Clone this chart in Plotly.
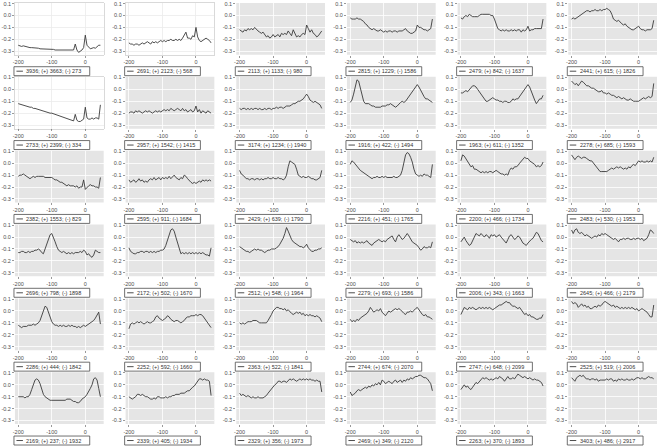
import plotly.graph_objects as go

# ---------------- data ----------------
X = list(range(-200, 50, 5))

TOTAL = [3936, 2691, 2113, 2815, 2479, 2441,
         2733, 2957, 3174, 1916, 1963, 2278,
         2382, 2595, 2429, 2216, 2200, 2483,
         2696, 2172, 2512, 2279, 2006, 2645,
         2286, 2252, 2363, 2744, 2747, 2525,
         2169, 2339, 2329, 2469, 2263, 3403]
PLUS = [3663, 2123, 1133, 1229, 842, 615,
        2399, 1542, 1234, 422, 611, 685,
        1553, 911, 639, 451, 466, 530,
        798, 502, 548, 693, 343, 466,
        444, 592, 522, 674, 648, 519,
        237, 405, 356, 349, 370, 486]
MINUS = [273, 568, 980, 1586, 1637, 1826,
         334, 1415, 1940, 1494, 1352, 1593,
         829, 1684, 1790, 1765, 1734, 1953,
         1898, 1670, 1964, 1586, 1663, 2179,
         1842, 1660, 1841, 2070, 2099, 2006,
         1932, 1934, 1973, 2120, 1893, 2917]
WHITE_PANELS = [0, 1, 6]

S01 = [-0.25,-0.255,-0.26,-0.255,-0.26,-0.265,-0.265,-0.27,-0.27,-0.27,
       -0.275,-0.275,-0.275,-0.28,-0.28,-0.28,-0.285,-0.28,-0.285,-0.285,
       -0.285,-0.285,-0.29,-0.29,-0.29,-0.29,-0.29,-0.295,-0.29,-0.295,
       -0.295,-0.295,-0.295,-0.29,-0.24,-0.29,-0.31,-0.30,-0.29,-0.27,
       -0.165,-0.25,-0.27,-0.28,-0.275,-0.27,-0.275,-0.265,-0.25,-0.25]
S02 = [-0.23,-0.24,-0.24,-0.25,-0.24,-0.24,-0.25,-0.24,-0.23,-0.24,
       -0.23,-0.22,-0.23,-0.24,-0.22,-0.23,-0.22,-0.23,-0.22,-0.21,
       -0.22,-0.21,-0.22,-0.21,-0.21,-0.20,-0.21,-0.21,-0.20,-0.21,
       -0.20,-0.21,-0.19,-0.17,-0.14,-0.19,-0.19,-0.20,-0.17,-0.18,
       -0.10,-0.18,-0.21,-0.22,-0.21,-0.20,-0.19,-0.20,-0.21,-0.23]
S03 = [-0.12,-0.13,-0.14,-0.12,-0.13,-0.11,-0.12,-0.11,-0.12,-0.10,
       -0.12,-0.13,-0.14,-0.15,-0.14,-0.16,-0.18,-0.17,-0.19,-0.18,
       -0.16,-0.18,-0.17,-0.16,-0.18,-0.15,-0.16,-0.15,-0.16,-0.13,
       -0.15,-0.17,-0.12,-0.15,-0.18,-0.17,-0.18,-0.16,-0.15,-0.16,
       -0.08,-0.11,-0.14,-0.12,-0.15,-0.16,-0.18,-0.17,-0.15,-0.13]
S04 = [-0.02,-0.03,-0.03,-0.03,-0.02,-0.03,-0.03,-0.04,-0.05,-0.07,
       -0.08,-0.10,-0.11,-0.12,-0.11,-0.12,-0.13,-0.13,-0.12,-0.13,
       -0.14,-0.13,-0.14,-0.13,-0.13,-0.14,-0.13,-0.13,-0.14,-0.13,
       -0.13,-0.13,-0.12,-0.11,-0.13,-0.14,-0.15,-0.15,-0.14,-0.13,
       -0.08,-0.10,-0.10,-0.11,-0.12,-0.12,-0.13,-0.12,-0.11,-0.03]
S05 = [-0.02,-0.03,-0.01,0.00,-0.01,0.01,0.00,-0.01,-0.01,-0.01,
       -0.01,0.00,0.01,0.01,0.01,0.01,0.01,0.01,0.00,0.00,
       -0.03,-0.08,-0.11,-0.12,-0.13,-0.12,-0.13,-0.12,-0.13,-0.13,
       -0.12,-0.13,-0.12,-0.13,-0.12,-0.12,-0.14,-0.12,-0.13,-0.12,
       -0.09,-0.13,-0.12,-0.12,-0.11,-0.11,-0.11,-0.11,-0.11,-0.03]
S06 = [-0.03,-0.02,-0.03,-0.02,-0.01,0.00,0.01,0.02,0.03,0.04,
       0.04,0.03,0.04,0.04,0.05,0.04,0.04,0.05,0.04,0.05,
       0.05,0.06,0.05,0.04,0.01,-0.03,-0.04,-0.05,-0.04,-0.06,
       -0.07,-0.08,-0.07,-0.09,-0.10,-0.11,-0.12,-0.12,-0.11,-0.10,
       -0.09,-0.11,-0.12,-0.12,-0.13,-0.12,-0.12,-0.12,-0.11,-0.04]
S07 = [-0.12,-0.125,-0.13,-0.13,-0.135,-0.14,-0.145,-0.15,-0.15,-0.16,
       -0.16,-0.165,-0.17,-0.175,-0.18,-0.18,-0.185,-0.19,-0.195,-0.20,
       -0.20,-0.205,-0.21,-0.215,-0.22,-0.225,-0.23,-0.235,-0.24,-0.245,
       -0.25,-0.255,-0.26,-0.265,-0.21,-0.26,-0.27,-0.27,-0.26,-0.25,
       -0.15,-0.24,-0.25,-0.25,-0.24,-0.25,-0.24,-0.24,-0.25,-0.13]
S08 = [-0.20,-0.19,-0.19,-0.20,-0.18,-0.19,-0.18,-0.19,-0.20,-0.19,
       -0.18,-0.19,-0.18,-0.19,-0.20,-0.19,-0.18,-0.19,-0.18,-0.19,
       -0.18,-0.17,-0.18,-0.17,-0.18,-0.16,-0.17,-0.18,-0.17,-0.16,
       -0.17,-0.18,-0.16,-0.18,-0.17,-0.19,-0.18,-0.17,-0.19,-0.18,
       -0.14,-0.19,-0.17,-0.20,-0.18,-0.19,-0.20,-0.18,-0.19,-0.20]
S09 = [-0.16,-0.17,-0.16,-0.16,-0.17,-0.16,-0.17,-0.16,-0.17,-0.16,
       -0.16,-0.17,-0.16,-0.17,-0.17,-0.16,-0.17,-0.16,-0.16,-0.17,
       -0.16,-0.16,-0.15,-0.16,-0.15,-0.15,-0.16,-0.15,-0.14,-0.14,
       -0.14,-0.13,-0.12,-0.12,-0.11,-0.10,-0.10,-0.09,-0.08,-0.06,
       -0.04,-0.06,-0.09,-0.10,-0.11,-0.10,-0.11,-0.12,-0.13,-0.16]
S10 = [-0.11,-0.09,-0.04,0.03,0.08,0.07,0.02,-0.05,-0.10,-0.12,
       -0.12,-0.12,-0.13,-0.14,-0.14,-0.15,-0.15,-0.15,-0.15,-0.14,
       -0.14,-0.14,-0.13,-0.13,-0.12,-0.13,-0.14,-0.15,-0.14,-0.12,
       -0.11,-0.10,-0.11,-0.10,-0.08,-0.06,-0.04,-0.02,0.01,0.03,
       0.04,0.02,-0.01,-0.03,-0.06,-0.08,-0.08,-0.09,-0.10,-0.11]
S11 = [-0.03,-0.03,-0.02,-0.01,-0.02,0.00,0.02,0.03,0.03,0.02,
       0.00,-0.02,-0.04,-0.06,-0.08,-0.10,-0.10,-0.09,-0.08,-0.07,
       -0.08,-0.09,-0.09,-0.10,-0.10,-0.11,-0.10,-0.10,-0.11,-0.11,
       -0.10,-0.08,-0.09,-0.08,-0.08,-0.06,-0.03,-0.01,0.01,0.03,
       0.04,0.02,-0.02,-0.06,-0.09,-0.12,-0.10,-0.08,-0.08,-0.05]
S12 = [0.07,0.05,0.04,0.05,0.03,0.05,0.07,0.06,0.04,0.03,
       0.03,0.02,0.01,0.01,0.00,-0.01,-0.02,-0.02,-0.01,-0.03,
       -0.03,-0.04,-0.03,-0.04,-0.05,-0.05,-0.06,-0.07,-0.06,-0.07,
       -0.08,-0.07,-0.08,-0.09,-0.09,-0.08,-0.09,-0.10,-0.10,-0.10,
       -0.10,-0.09,-0.08,-0.07,-0.08,-0.07,-0.06,-0.07,-0.06,0.05]
S13 = [-0.11,-0.10,-0.10,-0.09,-0.10,-0.11,-0.12,-0.13,-0.12,-0.11,
       -0.12,-0.11,-0.11,-0.11,-0.11,-0.11,-0.12,-0.12,-0.12,-0.12,
       -0.12,-0.13,-0.14,-0.14,-0.15,-0.16,-0.16,-0.17,-0.18,-0.19,
       -0.18,-0.19,-0.19,-0.19,-0.20,-0.19,-0.21,-0.20,-0.20,-0.14,
       -0.22,-0.20,-0.19,-0.18,-0.19,-0.19,-0.20,-0.20,-0.21,-0.12]
S14 = [-0.14,-0.16,-0.15,-0.14,-0.16,-0.15,-0.13,-0.15,-0.14,-0.16,
       -0.15,-0.16,-0.14,-0.13,-0.14,-0.12,-0.14,-0.13,-0.12,-0.14,
       -0.12,-0.13,-0.12,-0.13,-0.11,-0.13,-0.11,-0.10,-0.12,-0.13,
       -0.14,-0.12,-0.13,-0.10,-0.11,-0.13,-0.15,-0.16,-0.17,-0.16,
       -0.17,-0.16,-0.15,-0.16,-0.14,-0.15,-0.14,-0.15,-0.14,-0.15]
S15 = [-0.06,-0.09,-0.10,-0.12,-0.13,-0.13,-0.14,-0.13,-0.13,-0.14,
       -0.13,-0.13,-0.14,-0.13,-0.14,-0.13,-0.13,-0.12,-0.13,-0.13,
       -0.12,-0.13,-0.13,-0.12,-0.13,-0.13,-0.14,-0.13,-0.10,-0.03,
       0.02,0.01,0.00,-0.01,-0.05,-0.10,-0.11,-0.12,-0.11,-0.12,
       -0.12,-0.11,-0.12,-0.13,-0.13,-0.14,-0.14,-0.13,-0.12,-0.06]
S16 = [-0.01,0.02,0.01,-0.01,-0.03,-0.04,-0.06,-0.07,-0.08,-0.09,
       -0.10,-0.11,-0.12,-0.13,-0.12,-0.12,-0.11,-0.12,-0.12,-0.11,
       -0.12,-0.11,-0.12,-0.12,-0.12,-0.12,-0.11,-0.12,-0.12,-0.11,
       -0.10,-0.06,0.01,0.07,0.09,0.08,0.05,0.01,-0.05,-0.09,
       -0.10,-0.11,-0.10,-0.11,-0.09,-0.10,-0.10,-0.11,-0.12,-0.01]
S17 = [0.02,0.07,0.06,0.04,0.02,0.00,-0.03,-0.02,-0.05,-0.05,
       -0.06,-0.07,-0.08,-0.07,-0.08,-0.07,-0.08,-0.07,-0.07,-0.08,
       -0.07,-0.06,-0.07,-0.08,-0.09,-0.09,-0.10,-0.09,-0.10,-0.06,
       -0.04,-0.05,-0.03,-0.03,-0.02,0.00,0.02,0.03,0.05,0.04,
       0.04,0.02,0.01,0.00,-0.01,-0.03,-0.02,-0.03,-0.02,0.01]
S18 = [0.07,0.05,0.03,0.05,0.06,0.05,0.04,0.05,0.05,0.04,
       0.03,0.02,0.02,0.00,-0.01,-0.03,-0.05,-0.07,-0.07,-0.07,
       -0.07,-0.07,-0.06,-0.05,-0.04,-0.05,-0.04,-0.03,-0.04,-0.03,
       -0.04,-0.05,-0.04,-0.05,-0.03,-0.04,-0.02,-0.01,-0.02,0.00,
       0.02,0.01,0.02,0.01,0.01,0.02,0.01,0.02,0.01,0.05]
S19 = [-0.13,-0.13,-0.12,-0.12,-0.13,-0.13,-0.12,-0.13,-0.12,-0.12,
       -0.11,-0.11,-0.10,-0.11,-0.13,-0.14,-0.10,-0.06,-0.02,0.02,
       0.03,0.00,-0.04,-0.08,-0.11,-0.12,-0.13,-0.12,-0.13,-0.14,
       -0.13,-0.14,-0.13,-0.14,-0.13,-0.13,-0.13,-0.12,-0.13,-0.11,
       -0.12,-0.15,-0.14,-0.16,-0.17,-0.15,-0.11,-0.12,-0.13,-0.13]
S20 = [-0.09,-0.12,-0.13,-0.14,-0.14,-0.13,-0.13,-0.12,-0.12,-0.13,
       -0.12,-0.12,-0.13,-0.12,-0.13,-0.12,-0.13,-0.12,-0.12,-0.11,
       -0.11,-0.10,-0.07,-0.02,0.03,0.06,0.07,0.05,0.00,-0.05,
       -0.11,-0.14,-0.13,-0.14,-0.13,-0.14,-0.13,-0.14,-0.13,-0.14,
       -0.13,-0.14,-0.13,-0.14,-0.13,-0.14,-0.15,-0.15,-0.16,-0.09]
S21 = [-0.08,-0.09,-0.10,-0.11,-0.12,-0.12,-0.13,-0.12,-0.11,-0.10,
       -0.11,-0.10,-0.11,-0.11,-0.12,-0.13,-0.12,-0.11,-0.11,-0.10,
       -0.10,-0.10,-0.09,-0.08,-0.06,-0.04,-0.01,0.03,0.08,0.05,
       0.01,-0.02,-0.04,-0.05,-0.06,-0.07,-0.08,-0.08,-0.09,-0.08,
       -0.06,-0.09,-0.11,-0.12,-0.12,-0.11,-0.11,-0.10,-0.10,-0.09]
S22 = [-0.02,-0.03,-0.04,-0.03,-0.05,-0.04,-0.05,-0.04,-0.05,-0.04,
       -0.03,-0.05,-0.06,-0.07,-0.05,-0.04,-0.03,-0.02,-0.03,-0.04,
       -0.03,-0.04,-0.02,-0.01,0.00,0.01,-0.02,-0.04,0.00,0.02,
       0.00,-0.02,-0.01,0.01,0.03,0.01,-0.02,-0.04,-0.05,-0.06,
       -0.07,-0.09,-0.11,-0.10,-0.08,-0.09,-0.09,-0.08,-0.09,-0.04]
S23 = [-0.04,-0.02,0.00,-0.03,-0.05,-0.07,-0.06,-0.03,0.01,0.03,
       0.02,0.01,0.03,0.01,0.00,0.02,0.01,-0.01,0.02,0.01,
       0.02,0.00,0.01,0.02,0.00,-0.02,-0.04,-0.05,-0.02,0.01,
       0.02,0.00,-0.02,-0.01,0.01,0.00,-0.03,-0.05,-0.06,-0.07,
       -0.05,-0.03,-0.02,-0.01,0.02,0.04,0.03,0.00,-0.03,-0.04]
S24 = [0.06,0.03,0.06,0.07,0.04,0.03,0.04,0.02,0.01,0.02,
       0.01,0.00,-0.01,0.00,0.01,0.00,0.02,0.01,0.03,0.02,
       0.03,0.02,0.01,0.00,-0.01,-0.02,-0.01,-0.03,-0.04,-0.02,
       -0.02,-0.01,-0.02,-0.01,-0.01,-0.02,-0.02,-0.01,-0.02,-0.01,
       -0.01,-0.02,-0.01,-0.03,-0.02,-0.01,0.02,0.06,0.05,0.03]
S25 = [-0.12,-0.13,-0.14,-0.13,-0.13,-0.13,-0.12,-0.12,-0.12,-0.11,
       -0.12,-0.11,-0.10,-0.08,-0.04,0.01,0.04,0.03,-0.01,-0.06,
       -0.09,-0.11,-0.12,-0.12,-0.13,-0.12,-0.13,-0.12,-0.13,-0.13,
       -0.12,-0.13,-0.12,-0.13,-0.13,-0.14,-0.13,-0.14,-0.13,-0.12,
       -0.13,-0.12,-0.11,-0.10,-0.09,-0.08,-0.06,-0.03,-0.01,-0.11]
S26 = [-0.15,-0.11,-0.10,-0.11,-0.10,-0.09,-0.10,-0.09,-0.10,-0.11,
       -0.10,-0.09,-0.10,-0.10,-0.09,-0.08,-0.05,-0.04,-0.06,-0.07,
       -0.08,-0.07,-0.06,-0.04,-0.05,-0.07,-0.08,-0.09,-0.08,-0.08,
       -0.09,-0.10,-0.09,-0.08,-0.06,-0.05,-0.05,-0.04,-0.04,-0.04,
       -0.03,-0.04,-0.03,-0.03,-0.04,-0.06,-0.08,-0.09,-0.11,-0.14]
S27 = [-0.10,-0.11,-0.10,-0.11,-0.10,-0.09,-0.09,-0.09,-0.08,-0.08,
       -0.08,-0.09,-0.10,-0.10,-0.10,-0.10,-0.10,-0.08,-0.06,-0.03,
       0.00,0.02,0.03,0.03,0.02,0.02,0.01,0.02,0.00,0.01,
       -0.01,-0.02,-0.03,-0.02,-0.01,-0.02,-0.01,-0.03,-0.02,-0.04,
       -0.03,-0.04,-0.03,-0.04,-0.04,-0.05,-0.04,-0.05,-0.06,-0.09]
S28 = [-0.07,-0.09,-0.08,-0.09,-0.07,-0.08,-0.06,-0.05,-0.04,-0.03,
       -0.02,0.00,0.03,0.01,-0.01,0.00,0.01,0.00,0.02,-0.01,
       -0.03,-0.04,-0.02,0.00,-0.01,0.00,0.01,0.02,0.01,0.02,
       0.01,-0.01,-0.02,-0.03,-0.01,-0.01,0.00,-0.01,0.01,0.02,
       0.03,0.01,-0.02,-0.03,-0.04,-0.03,-0.05,-0.05,-0.06,-0.07]
S29 = [-0.03,0.00,0.03,0.02,0.01,0.03,0.02,0.03,0.02,0.01,
       0.02,0.03,0.02,0.03,0.02,0.03,0.02,0.03,0.02,0.01,
       0.02,0.03,0.04,0.05,0.05,0.06,0.07,0.08,0.07,0.07,
       0.05,0.04,0.04,0.03,0.02,0.03,0.01,-0.01,-0.03,-0.02,
       -0.04,-0.03,-0.05,-0.05,-0.06,-0.07,-0.07,-0.06,-0.06,-0.03]
S30 = [0.08,0.06,0.07,0.06,0.03,0.05,0.06,0.04,0.05,0.03,
       0.04,0.02,0.02,0.03,0.04,0.03,0.05,0.04,0.05,0.07,
       0.08,0.07,0.06,0.05,0.04,0.05,0.03,0.04,0.03,0.02,
       0.03,0.02,0.03,0.02,0.03,0.02,0.03,0.02,0.01,0.02,
       0.00,0.01,0.02,0.01,0.00,-0.01,-0.03,-0.05,-0.05,0.05]
S31 = [-0.10,-0.10,-0.10,-0.10,-0.11,-0.10,-0.10,-0.08,-0.04,0.01,
       0.04,0.05,0.04,0.01,-0.04,-0.08,-0.10,-0.11,-0.12,-0.13,
       -0.13,-0.13,-0.13,-0.13,-0.13,-0.13,-0.13,-0.13,-0.13,-0.12,
       -0.12,-0.12,-0.13,-0.14,-0.14,-0.15,-0.15,-0.14,-0.12,-0.11,
       -0.10,-0.08,-0.06,-0.03,0.00,0.05,0.06,0.04,-0.03,-0.10]
S32 = [-0.10,-0.11,-0.12,-0.11,-0.10,-0.08,-0.08,-0.09,-0.08,-0.09,
       -0.10,-0.10,-0.11,-0.12,-0.12,-0.11,-0.12,-0.10,-0.10,-0.11,
       -0.11,-0.11,-0.10,-0.11,-0.10,-0.10,-0.09,-0.09,-0.08,-0.08,
       -0.08,-0.07,-0.07,-0.07,-0.06,-0.05,-0.05,-0.03,-0.02,-0.01,
       0.01,0.03,0.05,0.05,0.04,0.05,0.04,0.04,0.03,-0.09]
S33 = [-0.07,-0.09,-0.08,-0.09,-0.10,-0.09,-0.10,-0.11,-0.10,-0.11,
       -0.11,-0.10,-0.11,-0.11,-0.11,-0.10,-0.09,-0.07,-0.05,-0.03,
       -0.02,0.00,0.01,0.03,0.03,0.02,0.03,0.03,0.02,0.04,
       0.05,0.04,0.05,0.04,0.03,0.04,0.05,0.04,0.05,0.04,
       0.05,0.04,0.05,0.04,0.04,0.03,0.04,0.03,0.03,-0.06]
S34 = [-0.06,-0.09,-0.08,-0.07,-0.05,-0.04,-0.05,-0.04,-0.03,-0.02,
       -0.03,-0.01,-0.02,0.00,-0.01,0.01,0.00,0.02,0.00,0.04,
       0.03,0.01,0.02,0.03,0.02,0.01,0.03,0.04,0.02,0.03,
       0.04,0.02,0.04,0.03,0.05,0.04,0.06,0.05,0.06,0.07,
       0.07,0.08,0.08,0.07,0.06,0.06,0.05,0.03,0.01,-0.05]
S35 = [-0.04,-0.02,0.00,-0.02,-0.01,-0.03,-0.04,-0.02,0.00,0.02,
       0.01,0.03,0.04,0.06,0.05,0.06,0.05,0.04,0.05,0.04,
       0.05,0.06,0.05,0.07,0.06,0.05,0.03,0.05,0.07,0.05,
       0.05,0.06,0.05,0.07,0.09,0.08,0.07,0.06,0.07,0.06,
       0.05,0.06,0.05,0.04,0.05,0.04,0.04,0.03,0.02,-0.01]
S36 = [0.06,0.04,0.03,0.06,0.07,0.08,0.07,0.08,0.06,0.05,
       0.05,0.04,0.05,0.05,0.04,0.05,0.03,0.04,0.04,0.04,
       0.04,0.05,0.04,0.05,0.05,0.03,0.04,0.03,0.05,0.04,
       0.05,0.04,0.04,0.05,0.04,0.04,0.05,0.04,0.05,0.06,
       0.06,0.05,0.06,0.05,0.05,0.06,0.07,0.06,0.06,0.05]

SERIES = [S01, S02, S03, S04, S05, S06, S07, S08, S09, S10, S11, S12,
          S13, S14, S15, S16, S17, S18, S19, S20, S21, S22, S23, S24,
          S25, S26, S27, S28, S29, S30, S31, S32, S33, S34, S35, S36]

X_TICKS = [-200, -100, 0]
Y_TICKS = [-0.3, -0.2, -0.1, 0.0, 0.1]
Y_TICK_TEXT = ["-0.3", "-0.2", "-0.1", "0.0", "0.1"]

# ---------------- layout geometry (pixels) ----------------
W, H = 660, 446
COL_LEFT = [13, 124, 235, 346, 457, 568]
ROW_TOP = [1 + 74.2 * r for r in range(6)]
PW, PH = 89, 52
FONT = "Liberation Sans, Arial, sans-serif"
LINE_COLOR = "#3a3a3a"

fig = go.Figure()
layout = dict(
    width=W, height=H,
    margin=dict(l=0, r=0, t=0, b=0),
    paper_bgcolor="white",
    plot_bgcolor="rgba(0,0,0,0)",
    showlegend=False,
    font=dict(family=FONT, size=6, color="#4d4d4d"),
)
shapes = []
annotations = []

def px(x):
    return x / W

def py(y):
    return 1 - y / H

for k in range(36):
    r, c = divmod(k, 6)
    n = k + 1
    left, top = COL_LEFT[c], ROW_TOP[r]
    white = k in WHITE_PANELS
    xa = "xaxis" if n == 1 else f"xaxis{n}"
    ya = "yaxis" if n == 1 else f"yaxis{n}"
    xr = "x" if n == 1 else f"x{n}"
    yr = "y" if n == 1 else f"y{n}"

    common = dict(
        showgrid=True,
        gridcolor="#ebebeb" if white else "#ffffff",
        gridwidth=0.8,
        zeroline=False,
        ticks="outside", ticklen=2, tickwidth=0.6, tickcolor="#555555",
        tickfont=dict(family=FONT, size=5.5, color="#4d4d4d"),
        showline=white, linecolor="#cfcfcf", linewidth=0.8, mirror=white,
        fixedrange=True,
    )
    layout[xa] = dict(common, domain=[px(left), px(left + PW)],
                      range=[-209.8, 54.8], tickvals=X_TICKS,
                      ticktext=[str(v) for v in X_TICKS], anchor=yr)
    layout[ya] = dict(common, domain=[py(top + PH), py(top)],
                      range=[-0.33, 0.105], tickvals=Y_TICKS,
                      ticktext=Y_TICK_TEXT, anchor=xr)

    if not white:
        shapes.append(dict(type="rect", xref="paper", yref="paper",
                           x0=px(left), x1=px(left + PW), y0=py(top + PH), y1=py(top),
                           layer="below", fillcolor="#e5e5e5", line=dict(width=0)))

    fig.add_trace(go.Scatter(x=X, y=SERIES[k], xaxis=xr, yaxis=yr, mode="lines",
                             line=dict(color=LINE_COLOR, width=0.9),
                             hoverinfo="skip"))

    # legend box beneath the panel
    bt = top + PH + 12
    bb = bt + 9
    shapes.append(dict(type="rect", xref="paper", yref="paper",
                       x0=px(left - 1), x1=px(left + 75), y0=py(bb), y1=py(bt),
                       fillcolor="white", line=dict(color="#4d4d4d", width=0.8)))
    ym = (bt + bb) / 2
    shapes.append(dict(type="line", xref="paper", yref="paper",
                       x0=px(left + 1.5), x1=px(left + 8), y0=py(ym), y1=py(ym),
                       line=dict(color=LINE_COLOR, width=0.9)))
    annotations.append(dict(xref="paper", yref="paper", x=px(left + 9.5), y=py(ym + 0.3),
                            xanchor="left", yanchor="middle", showarrow=False,
                            text=f"{TOTAL[k]}; (+) {PLUS[k]}; (-) {MINUS[k]}",
                            font=dict(family=FONT, size=5.5, color="#333333")))

layout["shapes"] = shapes
layout["annotations"] = annotations
fig.update_layout(**layout)
fig.write_html("out.html",
               config={"displayModeBar": False, "staticPlot": True},
               post_script="document.body.style.margin='0';document.body.style.padding='0';")
